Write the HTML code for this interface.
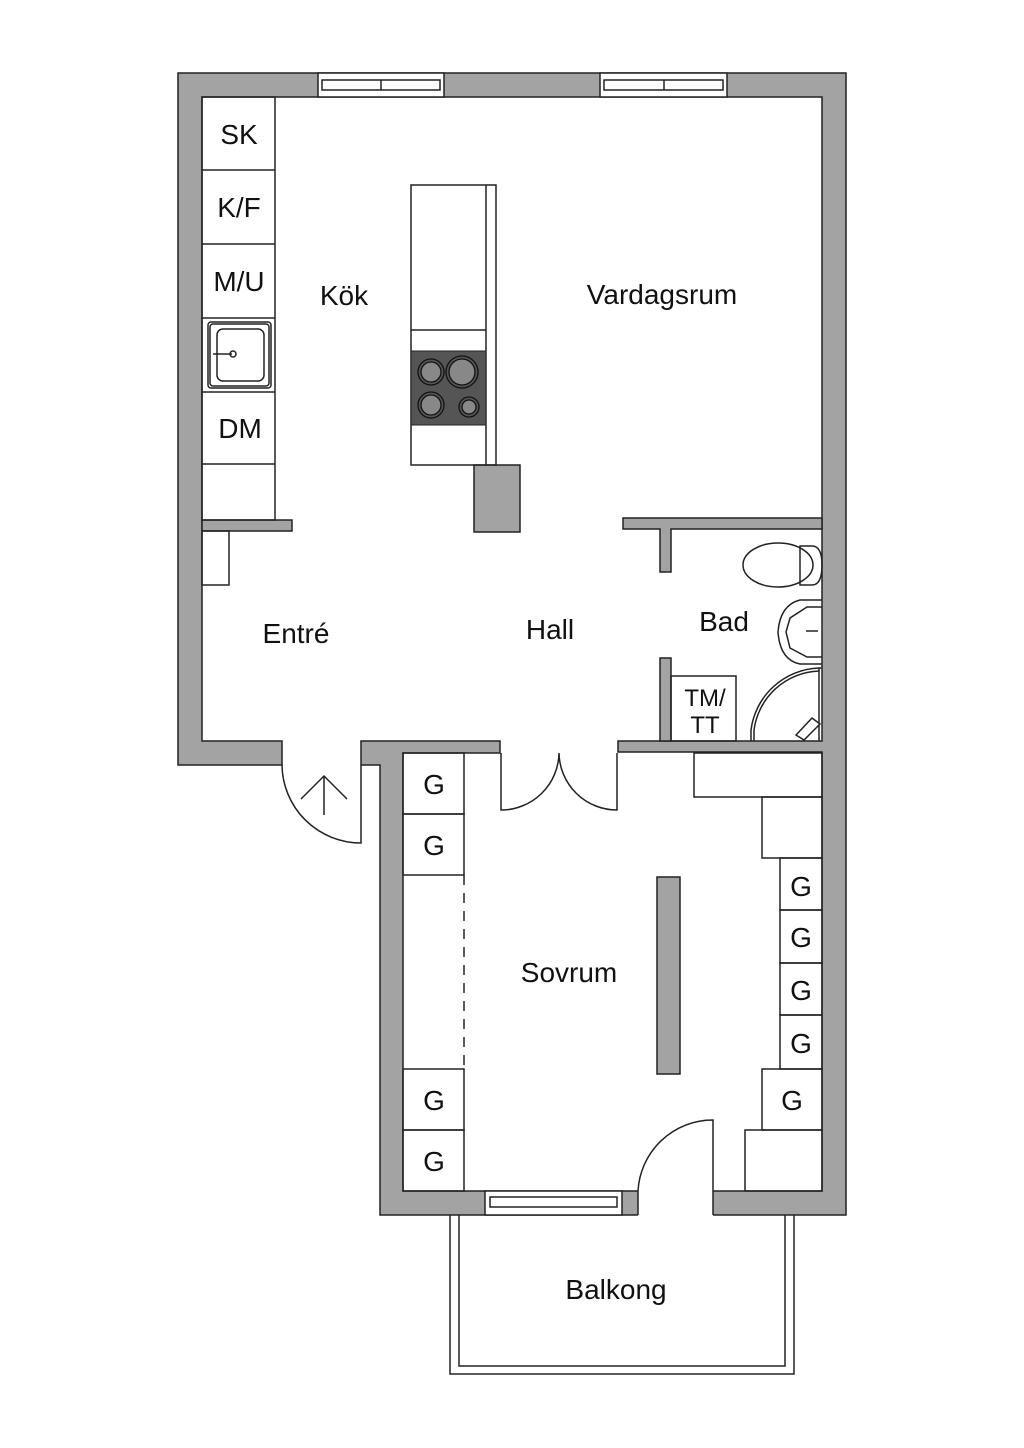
<!DOCTYPE html>
<html><head><meta charset="utf-8"><style>
html,body{margin:0;padding:0;background:#fff}
svg{display:block}
text{font-family:"Liberation Sans",sans-serif;fill:#111}
</style></head><body>
<svg width="1024" height="1448" viewBox="0 0 1024 1448" xmlns="http://www.w3.org/2000/svg">
<g fill="#a3a3a3" stroke="#222" stroke-width="1.5">
<path d="M178,73 H846 V1215 H380 V765 H361 V741 H500 V753 H403 V1191 H822 V752 H618 V741 H822 V97 H202 V741 H282 V765 H178 Z"/>
<rect x="202" y="520" width="90" height="11"/>
<path d="M623,518 H822 V529 H671 V572 H660 V529 H623 Z"/>
<rect x="660" y="658" width="11" height="83"/>
<rect x="474" y="465" width="46" height="67"/>
<rect x="657" y="877" width="23" height="197"/>
</g>
<g fill="#fff" stroke="#222" stroke-width="1.5">
<rect x="318" y="73" width="126" height="24"/><rect x="322" y="80" width="118" height="10"/><line x1="381" y1="80" x2="381" y2="90"/>
<rect x="600" y="73" width="127" height="24"/><rect x="604" y="80" width="119" height="10"/><line x1="664" y1="80" x2="664" y2="90"/>
<rect x="485" y="1191" width="137" height="24"/><rect x="490" y="1197" width="127" height="10"/>
<rect x="638" y="1189" width="75" height="28" stroke="none"/>
<line x1="638" y1="1191" x2="638" y2="1215"/><line x1="713" y1="1191" x2="713" y2="1215"/>
</g>
<g fill="none" stroke="#222" stroke-width="1.5">
<rect x="202" y="97" width="73" height="423"/>
<line x1="202" y1="170" x2="275" y2="170"/><line x1="202" y1="244" x2="275" y2="244"/>
<line x1="202" y1="318" x2="275" y2="318"/><line x1="202" y1="392" x2="275" y2="392"/><line x1="202" y1="464" x2="275" y2="464"/>
<rect x="208" y="322" width="63" height="66" rx="3"/><rect x="210" y="324" width="59" height="62" rx="3"/>
<rect x="217" y="329" width="47" height="52" rx="6"/>
<line x1="213" y1="354" x2="232" y2="354"/><circle cx="233" cy="354" r="3"/>
<rect x="202" y="531" width="27" height="54"/>
<rect x="411" y="185" width="85" height="280"/><line x1="486" y1="185" x2="486" y2="465"/>
<line x1="411" y1="330" x2="486" y2="330"/>
</g>
<rect x="411" y="351" width="75" height="74" fill="#555" stroke="#222"/>
<g stroke="#111" stroke-width="1.3" fill="#888">
<circle cx="431" cy="372" r="10"/><circle cx="431" cy="372" r="13" fill="none"/>
<circle cx="462" cy="372" r="13"/><circle cx="462" cy="372" r="16" fill="none"/>
<circle cx="431" cy="405" r="10"/><circle cx="431" cy="405" r="13" fill="none"/>
<circle cx="469" cy="407" r="7"/><circle cx="469" cy="407" r="10" fill="none"/>
</g>
<g fill="none" stroke="#222" stroke-width="1.5">
<ellipse cx="778" cy="565" rx="35" ry="22"/>
<path d="M800,546 H812 Q822,546 822,565 Q822,585 812,585 H800 Z"/>
<path d="M822,600 H800 Q780,605 778,632 Q780,660 800,664 H822"/>
<path d="M822,607 H807 L790,618 L786,632 L790,648 L807,657 H822"/>
<line x1="806" y1="631" x2="818" y2="631"/>
<rect x="671" y="676" width="65" height="65"/>
<path d="M751,741 V730 A71,71 0 0 1 819,668 H822"/>
<path d="M754,741 V730 A68,68 0 0 1 819,671"/>
<line x1="819" y1="668" x2="819" y2="741"/>
<path d="M796,735 L812,718 L820,724 L804,740 Z" fill="#fff"/>
<path d="M282,765 A79,79 0 0 0 361,843 V765"/>
<line x1="324" y1="815" x2="324" y2="777"/><path d="M301,799 L324,776 L347,799"/>
<path d="M501,753 V810 A58,58 0 0 0 559,753 A58,58 0 0 0 617,810 V753"/>
<path d="M713,1191 V1120 A75,75 0 0 0 638,1191"/>
<rect x="403" y="753" width="61" height="61"/><rect x="403" y="814" width="61" height="61"/>
<rect x="403" y="1069" width="61" height="61"/><rect x="403" y="1130" width="61" height="61"/>
<line x1="464" y1="875" x2="464" y2="1069" stroke-dasharray="10,8"/>
<rect x="694" y="753" width="128" height="44"/>
<rect x="762" y="797" width="60" height="61"/>
<rect x="780" y="858" width="42" height="52"/><rect x="780" y="910" width="42" height="53"/>
<rect x="780" y="963" width="42" height="52"/><rect x="780" y="1015" width="42" height="54"/>
<rect x="762" y="1069" width="60" height="61"/>
<rect x="745" y="1130" width="77" height="61"/>
<path d="M450,1215 V1374 H794 V1215"/>
<path d="M459,1215 V1366 H785 V1215"/>
</g>
<g font-size="28">
<text x="239" y="144" text-anchor="middle">SK</text>
<text x="239" y="217" text-anchor="middle">K/F</text>
<text x="239" y="291" text-anchor="middle">M/U</text>
<text x="240" y="438" text-anchor="middle">DM</text>
<text x="344" y="305" text-anchor="middle">Kök</text>
<text x="662" y="304" text-anchor="middle">Vardagsrum</text>
<text x="296" y="643" text-anchor="middle">Entré</text>
<text x="550" y="639" text-anchor="middle">Hall</text>
<text x="724" y="631" text-anchor="middle">Bad</text>
<text x="569" y="982" text-anchor="middle">Sovrum</text>
<text x="616" y="1299" text-anchor="middle">Balkong</text>
</g>
<g font-size="24" text-anchor="middle">
<text x="705" y="706">TM/</text><text x="705" y="733">TT</text>
</g>
<g font-size="28" text-anchor="middle">
<text x="434" y="794">G</text><text x="434" y="855">G</text>
<text x="434" y="1110">G</text><text x="434" y="1171">G</text>
<text x="801" y="896">G</text><text x="801" y="947">G</text>
<text x="801" y="1000">G</text><text x="801" y="1053">G</text>
<text x="792" y="1110">G</text>
</g>
</svg>
</body></html>
